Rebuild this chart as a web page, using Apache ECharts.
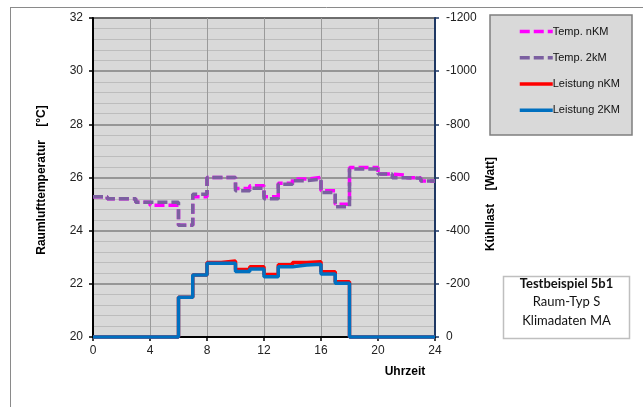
<!DOCTYPE html>
<html>
<head>
<meta charset="utf-8">
<script src="https://cdn.jsdelivr.net/npm/echarts@6/dist/echarts.min.js"></script>
<style>
html,body{margin:0;padding:0;background:#fff;}
#c{width:643px;height:407px;}
</style>
</head>
<body>
<div id="c"></div>
<script>
// hours 0..23 (value holds for hour h to h+1)
const hours = [0,1,2,3,4,5,6,7,8,9,10,11,12,13,14,15,16,17,18,19,20,21,22,23];
const tempNKM = [25.28,25.2,25.2,25.07,24.96,24.96,24.2,25.28,26.0,26.0,25.59,25.69,25.28,25.78,25.94,26.0,25.5,24.99,26.38,26.38,26.13,26.09,25.99,25.87];
const temp2KM = [25.28,25.2,25.2,25.07,25.07,25.07,24.2,25.37,26.0,26.0,25.5,25.6,25.2,25.75,25.88,25.94,25.44,24.9,26.32,26.32,26.13,25.99,25.97,25.87];
const leistungNKM = [0,0,0,0,0,0,-150,-233,-280,-286,-254,-264,-235,-272,-280,-283,-245,-208,0,0,0,0,0,0];
const leistung2KM = [0,0,0,0,0,0,-150,-233,-277,-277,-246,-256,-227,-264,-271,-274,-237,-202,0,0,0,0,0,0];
const xTicks = [0,4,8,12,16,20,24];
const names = ['Temp. nKM','Temp. 2kM','Leistung nKM','Leistung 2KM'];

function stepData(vals){
  const d = hours.map((h,i)=>[h, vals[i]]);
  d.push([24, vals[vals.length-1]]);
  return d;
}

const chart = echarts.init(document.getElementById('c'), null, {renderer:'canvas'});
const font = 'Liberation Sans, Arial, sans-serif';
chart.setOption({
  animation:false,
  backgroundColor:'#fff',
  textStyle:{fontFamily:font},
  grid:{left:93,right:208,top:18,bottom:70,show:true,backgroundColor:'#D9D9D9',borderColor:'#000',borderWidth:1.5},
  xAxis:{type:'value',min:xTicks[0],max:xTicks[xTicks.length-1],interval:4,
    axisLine:{lineStyle:{color:'#000',width:2}},
    axisTick:{show:true,inside:false,length:4,lineStyle:{color:'#000',width:1.5}},
    axisLabel:{color:'#222',fontSize:12,margin:8,fontFamily:font},
    splitLine:{show:true,lineStyle:{color:'#9a9a9a',width:1}}},
  yAxis:[
    {type:'value',min:20,max:32,interval:2,position:'left',
     axisLine:{show:true,lineStyle:{color:'#000',width:2}},
     axisTick:{show:true,length:4,lineStyle:{color:'#000',width:1.5}},
     axisLabel:{color:'#222',fontSize:12,margin:10,fontFamily:font},
     splitLine:{show:true,lineStyle:{color:'#7f7f7f',width:1.5}},
     minorTick:{show:false,splitNumber:5},
     minorSplitLine:{show:true,lineStyle:{color:'#bdbdbd',width:1}}},
    {type:'value',min:-1200,max:0,interval:200,inverse:true,position:'right',
     axisLine:{show:true,lineStyle:{color:'#1F3864',width:2}},
     axisTick:{show:true,length:4,lineStyle:{color:'#1F3864',width:1.5}},
     axisLabel:{color:'#222',fontSize:12,margin:11,fontFamily:font,formatter:function(v){return String(v);}},
     splitLine:{show:false}}
  ],
  legend:{orient:'vertical',left:513,top:21,itemWidth:33,itemHeight:14,itemGap:15,
    data:names,
    itemStyle:{opacity:0},
    lineStyle:{width:3.5},
    textStyle:{fontSize:11,color:'#111',fontFamily:font,padding:[0,0,0,-5]}},
  series:[
    {name:names[0],type:'line',step:'end',yAxisIndex:0,data:stepData(tempNKM),symbol:'none',clip:false,
     lineStyle:{color:'#FF00FF',width:3.5,type:[10,4]},itemStyle:{color:'#FF00FF'},z:3},
    {name:names[1],type:'line',step:'end',yAxisIndex:0,data:stepData(temp2KM),symbol:'none',clip:false,
     lineStyle:{color:'#7B5FA0',width:3.5,type:[10,4]},itemStyle:{color:'#7B5FA0'},z:4},
    {name:names[2],type:'line',step:'end',yAxisIndex:1,data:stepData(leistungNKM),symbol:'none',clip:false,
     lineStyle:{color:'#FF0000',width:3.5},itemStyle:{color:'#FF0000'},z:3},
    {name:names[3],type:'line',step:'end',yAxisIndex:1,data:stepData(leistung2KM),symbol:'none',clip:false,
     lineStyle:{color:'#0070C0',width:3.5},itemStyle:{color:'#0070C0'},z:4}
  ],
  graphic:[
    {type:'line',shape:{x1:10,y1:7.5,x2:643,y2:7.5},style:{stroke:'#8a8a8a',lineWidth:1},z:-10},
    {type:'line',shape:{x1:10.5,y1:7,x2:10.5,y2:407},style:{stroke:'#8a8a8a',lineWidth:1},z:-10},
    {type:'rect',shape:{x:490,y:15,width:142,height:120},style:{fill:'#D9D9D9',stroke:'#7f7f7f',lineWidth:1.5},z:-5},
    {type:'rect',shape:{x:503.5,y:276.5,width:126,height:62},style:{fill:'#fff',stroke:'#bfbfbf',lineWidth:1.5},z:-5},
    {type:'text',x:566.5,y:284,style:{text:'Testbeispiel 5b1',font:'bold 13px Lato, "Open Sans", sans-serif',fill:'#111',align:'center',verticalAlign:'middle'}},
    {type:'text',x:566.5,y:302,style:{text:'Raum-Typ S',font:'13px Lato, "Open Sans", sans-serif',fill:'#111',align:'center',verticalAlign:'middle'}},
    {type:'text',x:566.5,y:321,style:{text:'Klimadaten MA',font:'13px Lato, "Open Sans", sans-serif',fill:'#111',align:'center',verticalAlign:'middle'}},
    {type:'text',x:42,y:180,rotation:Math.PI/2,style:{text:'Raumlufttemperatur    [°C]',font:'bold 12px "Liberation Sans", Arial, sans-serif',fill:'#000',align:'center',verticalAlign:'middle'}},
    {type:'text',x:491,y:204,rotation:Math.PI/2,style:{text:'Kühllast    [Watt]',font:'bold 12px "Liberation Sans", Arial, sans-serif',fill:'#000',align:'center',verticalAlign:'middle'}},
    {type:'text',x:405,y:372,style:{text:'Uhrzeit',font:'bold 12px "Liberation Sans", Arial, sans-serif',fill:'#000',align:'center',verticalAlign:'middle'}}
  ]
});
</script>
</body>
</html>
